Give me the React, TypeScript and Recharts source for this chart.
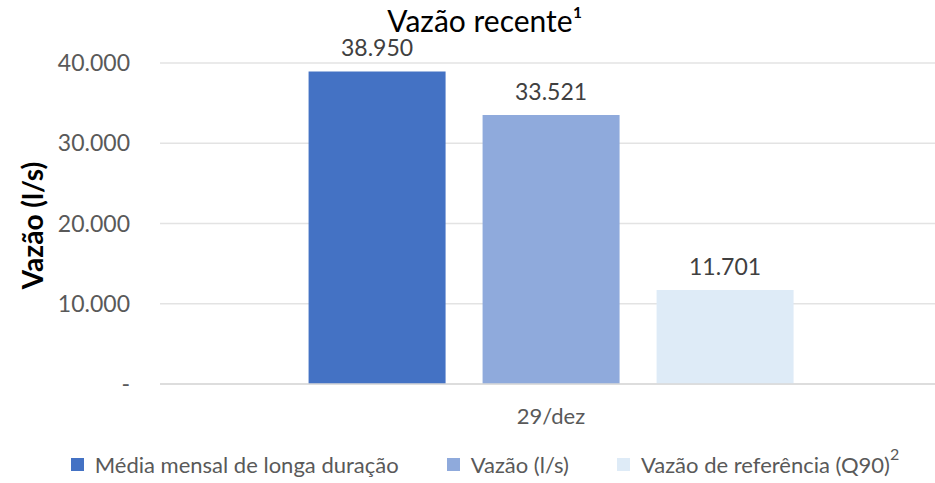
import { BarChart, Bar, XAxis, YAxis, CartesianGrid, LabelList, Label } from 'recharts'

const categories = ['29/dez']
const mediaMensal = [38950]
const vazao = [33521]
const vazaoReferencia = [11701]
const yTicks = [0, 10000, 20000, 30000, 40000]

const FONT = 'Lato, "Open Sans", sans-serif'

const series = [
  { key: 'media', name: 'Média mensal de longa duração', color: '#4472C4', sup: '' },
  { key: 'vazao', name: 'Vazão (l/s)', color: '#8FAADC', sup: '' },
  { key: 'referencia', name: 'Vazão de referência (Q90)', color: '#DEEBF7', sup: '2' },
]

const data = categories.map((cat, i) => ({
  cat,
  media: mediaMensal[i],
  vazao: vazao[i],
  referencia: vazaoReferencia[i],
}))

const fmt = (v: number) => {
  if (v === 0) return '-'
  return String(Math.round(v)).replace(/\B(?=(\d{3})+(?!\d))/g, '.')
}

const AxisTitle = (props: any) => {
  const vb = props.viewBox || { x: 0, y: 0, width: 0, height: 0 }
  const cx = vb.x + 32
  const cy = vb.y + vb.height / 2 + 2
  return (
    <text
      x={cx}
      y={cy}
      transform={`rotate(-90 ${cx} ${cy})`}
      textAnchor="middle"
      dominantBaseline="central"
      fontFamily={FONT}
      fontSize={28}
      fontWeight={700}
      fill="#000"
    >
      Vazão (l/s)
    </text>
  )
}

export default function App() {
  return (
    <div style={{ position: 'absolute', left: 0, top: 0, width: 935, height: 483, background: '#fff', fontFamily: FONT }}>
      <div
        style={{
          position: 'absolute',
          top: 2,
          left: 0,
          width: 970,
          textAlign: 'center',
          fontSize: 30,
          color: '#000',
        }}
      >
        Vazão recente¹
      </div>
      <BarChart
        width={935}
        height={483}
        data={data}
        margin={{ top: 63, right: -7, bottom: 59, left: 0 }}
        barCategoryGap="19%"
        barGap={37}
      >
        <CartesianGrid vertical={false} stroke="#E3E3E3" strokeWidth={1.3} />
        <XAxis
          dataKey="cat"
          height={40}
          axisLine={{ stroke: '#D9D9D9', strokeWidth: 1.3 }}
          tickLine={false}
          tickSize={0}
          tickMargin={24}
          tick={{ fill: '#595959', fontSize: 22, fontFamily: FONT }}
        />
        <YAxis
          width={160}
          domain={[0, 40000]}
          ticks={yTicks}
          axisLine={false}
          tickLine={false}
          tickSize={0}
          tickMargin={30}
          tickFormatter={fmt}
          tick={{ fill: '#595959', fontSize: 23, fontFamily: FONT }}
        >
          <Label content={<AxisTitle />} />
        </YAxis>
        {series.map((s) => (
          <Bar key={s.key} dataKey={s.key} name={s.name} fill={s.color} isAnimationActive={false}>
            <LabelList
              dataKey={s.key}
              position="top"
              offset={15}
              formatter={(v: any) => fmt(Number(v))}
              style={{ fill: '#404040', fontSize: 23, fontFamily: FONT }}
            />
          </Bar>
        ))}
      </BarChart>
      <div
        style={{
          position: 'absolute',
          top: 451,
          left: 0,
          width: 970,
          display: 'flex',
          justifyContent: 'center',
          alignItems: 'center',
          fontSize: 22,
          color: '#595959',
          whiteSpace: 'nowrap',
        }}
      >
        {series.map((s, i) => (
          <div key={s.key} style={{ display: 'flex', alignItems: 'center', marginLeft: i === 0 ? 0 : 48 }}>
            <span style={{ display: 'inline-block', width: 13, height: 13, background: s.color, marginRight: 11 }} />
            <span>
              {s.name}
              {s.sup && <sup style={{ fontSize: 16, verticalAlign: 'top', position: 'relative', top: -7 }}>{s.sup}</sup>}
            </span>
          </div>
        ))}
      </div>
    </div>
  )
}
